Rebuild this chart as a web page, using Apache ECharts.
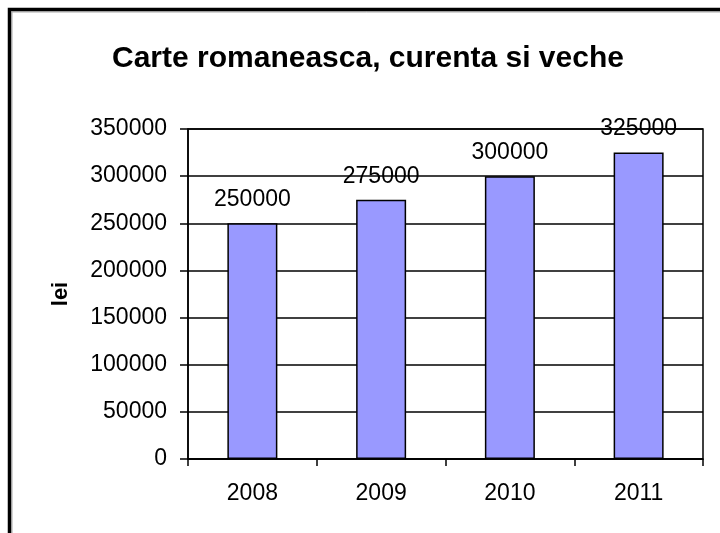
<!DOCTYPE html>
<html>
<head>
<meta charset="utf-8">
<script src="https://cdn.jsdelivr.net/npm/echarts@6/dist/echarts.min.js"></script>
<style>
  html, body { margin: 0; padding: 0; background: #fff; }
  #chart { width: 720px; height: 533px; }
</style>
</head>
<body>
<div id="chart"></div>
<script>
// data
const years = ['2008', '2009', '2010', '2011']
const sales = [250000, 275000, 300000, 325000]
const yTicks = [0, 50000, 100000, 150000, 200000, 250000, 300000, 350000]

const font = 'Liberation Sans, Arial, sans-serif'
const chart = echarts.init(document.getElementById('chart'))

chart.setOption({
  animation: false,
  backgroundColor: '#fff',
  title: {
    text: 'Carte romaneasca, curenta si veche',
    left: 107,
    top: 39,
    textStyle: { fontFamily: font, fontSize: 30, fontWeight: 'bold', color: '#000' }
  },
  // outer chart frame
  graphic: [
    {
      type: 'rect',
      shape: { x: 12, y: 12, width: 800, height: 600 },
      style: { fill: null, stroke: '#aaa', lineWidth: 1 },
      silent: true
    },
    {
      type: 'rect',
      shape: { x: 9.5, y: 9.5, width: 800, height: 600 },
      style: { fill: null, stroke: '#000', lineWidth: 3.5 },
      silent: true
    }
  ],
  grid: {
    left: 188, top: 129, right: 17, bottom: 74,
    show: true, borderColor: '#000', borderWidth: 1.5
  },
  xAxis: {
    type: 'category',
    data: years,
    axisLine: { lineStyle: { color: '#000', width: 1.5 } },
    axisTick: { show: true, length: 7, lineStyle: { color: '#000', width: 1.5 } },
    axisLabel: { margin: 23, fontFamily: font, fontSize: 23, color: '#000' }
  },
  yAxis: {
    type: 'value',
    min: yTicks[0],
    max: yTicks[yTicks.length - 1],
    interval: yTicks[1] - yTicks[0],
    name: 'lei',
    nameLocation: 'middle',
    nameGap: 116,
    nameRotate: 90,
    nameTextStyle: { fontFamily: font, fontSize: 22, fontWeight: 'bold', color: '#000' },
    axisLine: { show: true, lineStyle: { color: '#000', width: 1.5 } },
    axisTick: { show: true, length: 8, lineStyle: { color: '#000', width: 1.5 } },
    axisLabel: {
      margin: 21, fontFamily: font, fontSize: 23, color: '#000',
      formatter: v => String(v)
    },
    splitLine: { show: true, lineStyle: { color: '#000', width: 1.5 } }
  },
  series: [
    {
      type: 'bar',
      data: sales,
      barWidth: 50,
      itemStyle: { color: '#9999ff', borderColor: '#000', borderWidth: 1.5 },
      label: {
        show: true,
        position: 'top',
        distance: 12,
        fontFamily: font,
        fontSize: 23,
        color: '#000'
      }
    }
  ]
})
</script>
</body>
</html>
